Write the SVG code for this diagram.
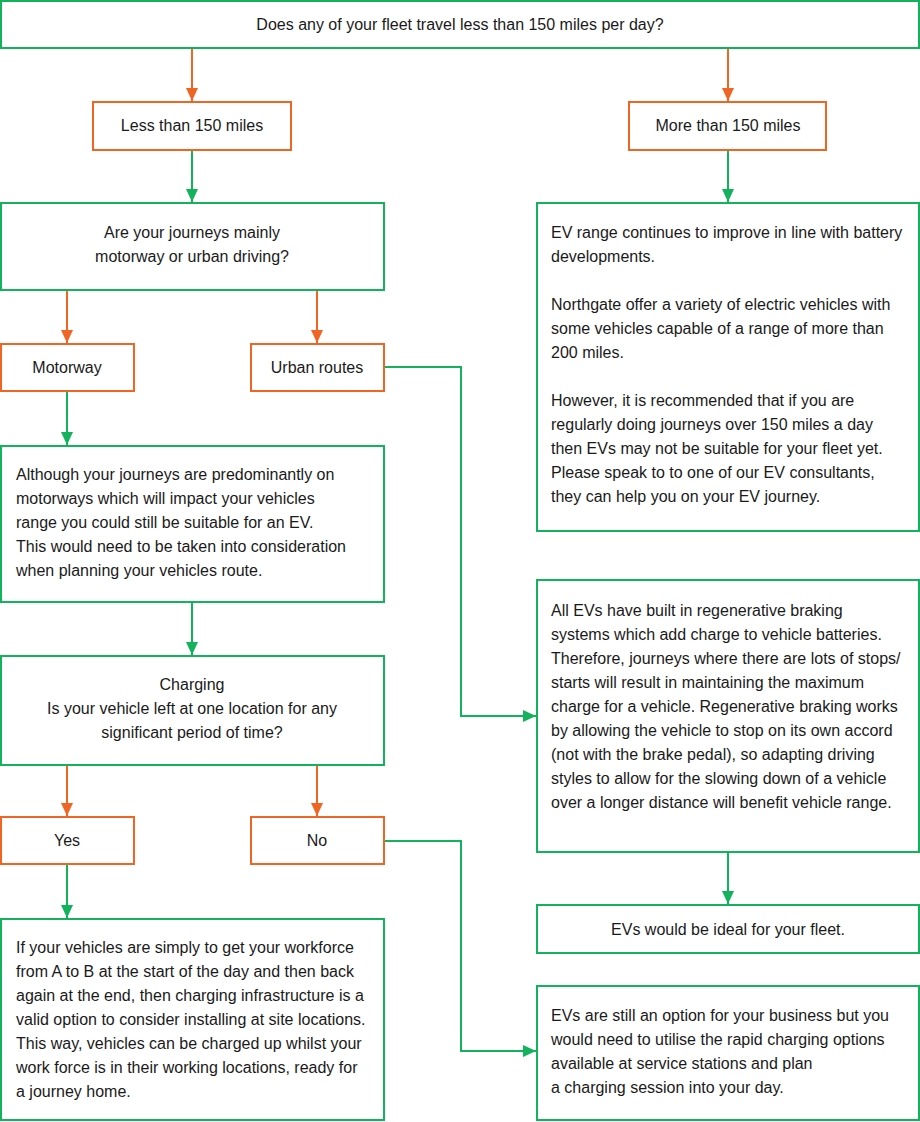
<svg xmlns="http://www.w3.org/2000/svg" width="920" height="1122" viewBox="0 0 920 1122">
<style>
.g{fill:#fff;stroke:#13b25c;stroke-width:2}
.o{fill:#fff;stroke:#ef6624;stroke-width:2}
.t{font-family:"Liberation Sans",Arial,sans-serif;font-size:16px;fill:#1a1a1a}
.c{text-anchor:middle}
.lg{fill:none;stroke:#13b25c;stroke-width:2}
.lo{fill:none;stroke:#ef6624;stroke-width:2}
</style>
<defs>
<marker id="ag" markerUnits="userSpaceOnUse" markerWidth="14" markerHeight="12" refX="13" refY="6" orient="auto"><path d="M0,0 L13,6 L0,12 Z" fill="#13b25c"/></marker>
<marker id="ao" markerUnits="userSpaceOnUse" markerWidth="14" markerHeight="12" refX="13" refY="6" orient="auto"><path d="M0,0 L13,6 L0,12 Z" fill="#ef6624"/></marker>
</defs>
<rect width="920" height="1122" fill="#fff"/>
<g id="connectors">
<path class="lo" d="M192,48 V101" marker-end="url(#ao)"/>
<path class="lo" d="M728,48 V101" marker-end="url(#ao)"/>
<path class="lg" d="M192,150 V202" marker-end="url(#ag)"/>
<path class="lg" d="M728,150 V202" marker-end="url(#ag)"/>
<path class="lo" d="M67,290 V343" marker-end="url(#ao)"/>
<path class="lo" d="M317,290 V343" marker-end="url(#ao)"/>
<path class="lg" d="M384,367 H461 V716 H536" marker-end="url(#ag)"/>
<path class="lg" d="M67,391 V445" marker-end="url(#ag)"/>
<path class="lg" d="M192,602 V655" marker-end="url(#ag)"/>
<path class="lo" d="M67,765 V816" marker-end="url(#ao)"/>
<path class="lo" d="M317,765 V816" marker-end="url(#ao)"/>
<path class="lg" d="M384,841 H461 V1051 H536" marker-end="url(#ag)"/>
<path class="lg" d="M67,864 V918" marker-end="url(#ag)"/>
<path class="lg" d="M728,852 V904" marker-end="url(#ag)"/>
</g>
<g id="q1"><rect class="g" x="1" y="1" width="918" height="47"/><text class="t c" x="460" y="30">Does any of your fleet travel less than 150 miles per day?</text></g>
<g id="less"><rect class="o" x="93" y="102" width="198" height="48"/><text class="t c" x="192" y="131">Less than 150 miles</text></g>
<g id="more"><rect class="o" x="629" y="102" width="197" height="48"/><text class="t c" x="728" y="131">More than 150 miles</text></g>
<g id="q2"><rect class="g" x="1" y="203" width="383" height="87"/><text class="t c" x="192" y="238">Are your journeys mainly</text><text class="t c" x="192" y="262">motorway or urban driving?</text></g>
<g id="range"><rect class="g" x="537" y="203" width="382" height="328"/>
<text class="t" x="551" y="238">EV range continues to improve in line with battery</text>
<text class="t" x="551" y="262">developments.</text>
<text class="t" x="551" y="310">Northgate offer a variety of electric vehicles with</text>
<text class="t" x="551" y="334">some vehicles capable of a range of more than</text>
<text class="t" x="551" y="358">200 miles.</text>
<text class="t" x="551" y="406">However, it is recommended that if you are</text>
<text class="t" x="551" y="430">regularly doing journeys over 150 miles a day</text>
<text class="t" x="551" y="454">then EVs may not be suitable for your fleet yet.</text>
<text class="t" x="551" y="478">Please speak to to one of our EV consultants,</text>
<text class="t" x="551" y="502">they can help you on your EV journey.</text>
</g>
<g id="motorway"><rect class="o" x="1" y="344" width="133" height="47"/><text class="t c" x="67" y="373">Motorway</text></g>
<g id="urban"><rect class="o" x="251" y="344" width="133" height="47"/><text class="t c" x="317" y="373">Urban routes</text></g>
<g id="although"><rect class="g" x="1" y="446" width="383" height="156"/>
<text class="t" x="16" y="480">Although your journeys are predominantly on</text>
<text class="t" x="16" y="504">motorways which will impact your vehicles</text>
<text class="t" x="16" y="528">range you could still be suitable for an EV.</text>
<text class="t" x="16" y="552">This would need to be taken into consideration</text>
<text class="t" x="16" y="576">when planning your vehicles route.</text>
</g>
<g id="regen"><rect class="g" x="537" y="580" width="382" height="272"/>
<text class="t" x="551" y="616">All EVs have built in regenerative braking</text>
<text class="t" x="551" y="640">systems which add charge to vehicle batteries.</text>
<text class="t" x="551" y="664">Therefore, journeys where there are lots of stops/</text>
<text class="t" x="551" y="688">starts will result in maintaining the maximum</text>
<text class="t" x="551" y="712">charge for a vehicle. Regenerative braking works</text>
<text class="t" x="551" y="736">by allowing the vehicle to stop on its own accord</text>
<text class="t" x="551" y="760">(not with the brake pedal), so adapting driving</text>
<text class="t" x="551" y="784">styles to allow for the slowing down of a vehicle</text>
<text class="t" x="551" y="808">over a longer distance will benefit vehicle range.</text>
</g>
<g id="charging"><rect class="g" x="1" y="656" width="383" height="109"/>
<text class="t c" x="192" y="690">Charging</text>
<text class="t c" x="192" y="714">Is your vehicle left at one location for any</text>
<text class="t c" x="192" y="738">significant period of time?</text>
</g>
<g id="yes"><rect class="o" x="1" y="817" width="133" height="47"/><text class="t c" x="67" y="846">Yes</text></g>
<g id="no"><rect class="o" x="251" y="817" width="133" height="47"/><text class="t c" x="317" y="846">No</text></g>
<g id="ideal"><rect class="g" x="537" y="905" width="382" height="48"/><text class="t c" x="728" y="935">EVs would be ideal for your fleet.</text></g>
<g id="workforce"><rect class="g" x="1" y="919" width="383" height="201"/>
<text class="t" x="16" y="953">If your vehicles are simply to get your workforce</text>
<text class="t" x="16" y="977">from A to B at the start of the day and then back</text>
<text class="t" x="16" y="1001">again at the end, then charging infrastructure is a</text>
<text class="t" x="16" y="1025">valid option to consider installing at site locations.</text>
<text class="t" x="16" y="1049">This way, vehicles can be charged up whilst your</text>
<text class="t" x="16" y="1073">work force is in their working locations, ready for</text>
<text class="t" x="16" y="1097">a journey home.</text>
</g>
<g id="rapid"><rect class="g" x="537" y="986" width="382" height="134"/>
<text class="t" x="551" y="1021">EVs are still an option for your business but you</text>
<text class="t" x="551" y="1045">would need to utilise the rapid charging options</text>
<text class="t" x="551" y="1069">available at service stations and plan</text>
<text class="t" x="551" y="1093">a charging session into your day.</text>
</g>
</svg>
